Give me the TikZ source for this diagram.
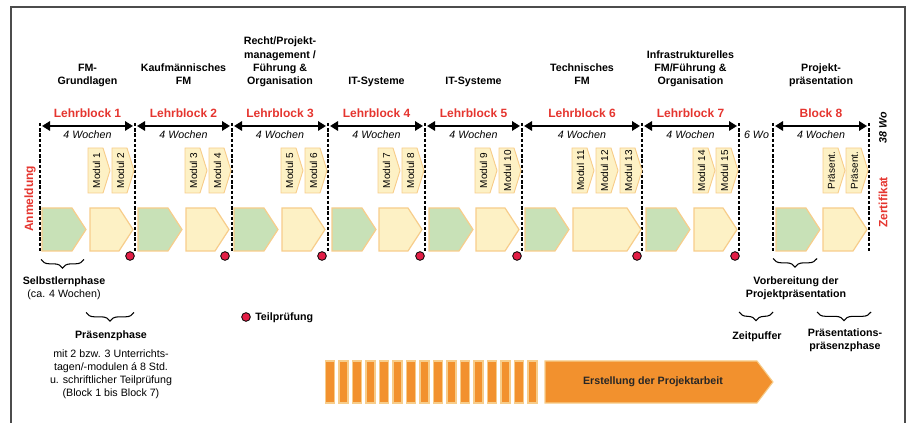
\documentclass[tikz,border=0pt]{standalone}
\usepackage{fontspec}
\setmainfont{Liberation Sans}
\usetikzlibrary{arrows.meta,decorations.pathreplacing}

\definecolor{rotschrift}{HTML}{E5352F}
\definecolor{gruenflaeche}{HTML}{C8E1B7}
\definecolor{gelbflaeche}{HTML}{FDF1C5}
\definecolor{orangerand}{HTML}{F7CD8B}
\definecolor{orangebalken}{HTML}{F2912E}
\definecolor{punktrot}{HTML}{E21E46}

% Fuenfeck: Stil, links, oben, Breite, Hoehe, Spitze
\newcommand{\pfeilform}[6]{%
	\draw[#1] (#2,#3) -- ++(#4-#6,0) -- ++(#6,#5/2) -- ++(-#6,#5/2) -- ++(#6-#4,0) -- cycle;}

\tikzset{
	thema/.style={font=\fontsize{8}{10}\selectfont\bfseries, align=center, anchor=south, inner sep=0pt, execute at end node=\strut},
	blocktitel/.style={font=\fontsize{9}{11}\selectfont\bfseries, text=rotschrift, anchor=base, inner sep=0pt},
	dauer/.style={font=\fontsize{8}{10}\selectfont\itshape, anchor=base, inner sep=0pt},
	dauerpfeil/.style={{Triangle[length=6pt,width=7pt]}-{Triangle[length=6pt,width=7pt]}, line width=1.9pt, shorten <=1.5pt, shorten >=1.5pt},
	trenn/.style={line width=1.4pt, dash pattern=on 2.6pt off 1.3pt},
	gruen/.style={fill=gruenflaeche, draw=orangerand, line width=0.9pt},
	gelb/.style={fill=gelbflaeche, draw=orangerand, line width=0.9pt},
	modul/.style={fill=gelbflaeche, draw=orangerand, line width=0.7pt},
	modultext/.style={font=\fontsize{7.5}{9}\selectfont, rotate=90, inner sep=0pt},
	pruef/.style={circle, draw=black, fill=punktrot, line width=0.6pt, minimum size=6.5pt, inner sep=0pt},
	seitlich/.style={font=\fontsize{9}{11}\selectfont\bfseries, rotate=90, inner sep=0pt},
	klammer/.style={decorate, decoration={brace, mirror, amplitude=6.5pt}, line width=0.8pt},
	erklaerung/.style={font=\fontsize{8}{9.75}\selectfont, align=center, anchor=north, inner sep=0pt, execute at begin node=\strut},
	erklaerungfett/.style={erklaerung, font=\fontsize{8}{9.75}\selectfont\bfseries},
	streifen/.style={fill=orangebalken, draw=orangerand, line width=0.8pt},
}

\begin{document}
\begin{tikzpicture}[x=0.75pt,y=-0.75pt]
	\useasboundingbox (0,0) rectangle (909,423);
	\draw[draw=black!70, line width=0.8pt] (11,423) -- (11,7) -- (905,7) -- (905,423);

	% Themen
	\node[thema] (th1) at (87.5,89) {FM-\\Grundlagen};
	\node[thema] (th2) at (183.5,89) {Kaufmännisches\\FM};
	\node[thema] (th3) at (280,89) {Recht/Projekt-\\management /\\Führung \&\\Organisation};
	\node[thema] (th4) at (376.5,89) {IT-Systeme};
	\node[thema] (th5) at (473.5,89) {IT-Systeme};
	\node[thema] (th6) at (582,89) {Technisches\\FM};
	\node[thema] (th7) at (690.5,89) {Infrastrukturelles\\FM/Führung \&\\Organisation};
	\node[thema] (th8) at (821,89) {Projekt-\\präsentation};

	% Bloecke
	\foreach \c [count=\n] in {87.5,183.5,280,376.5,473.5,582,690.5}
	{
		\node[blocktitel] (lb\n) at (\c,118) {Lehrblock \n};
		\node[dauer] (wo\n) at (\c,138.5) {4 Wochen};
	}
	\node[blocktitel] (lb8) at (821,118) {Block 8};
	\node[dauer] (wo8) at (821,138.5) {4 Wochen};
	\node[dauer] (wo9) at (756.5,138.5) {6 Wo};

	\foreach \x [count=\i from 0] in {40,135,232,328,425,522,642,739,773,869}
	{
		\coordinate (t\i) at (\x,126);
		\draw[trenn] (t\i) ++(0,-3) -- ++(0,128);
	}
	\foreach \a/\b in {0/1,1/2,2/3,3/4,4/5,5/6,6/7,8/9}
		\draw[dauerpfeil] (t\a) -- (t\b);

	% Module
	\foreach \x/\txt [count=\i] in {88/Modul 1, 112/Modul 2, 185/Modul 3, 209/Modul 4, 281/Modul 5, 305/Modul 6, 378/Modul 7, 402/Modul 8, 475/Modul 9, 499/Modul 10, 572/Modul 11, 596/Modul 12, 620/Modul 13, 693/Modul 14, 716/Modul 15, 823/Präsent., 846/Präsent.}
	{
		\pfeilform{modul}{\x}{148}{22}{45}{7}
		\node[modultext] (m\i) at (\x+8.5,170.5) {\txt};
	}

	% Phasen
	\foreach \gx/\yx/\yb in {42/90/43, 138/186/43, 234/282/43, 332/379/43, 429/476/43, 525/573/68, 646/694/43, 776/823/44}
	{
		\pfeilform{gruen}{\gx}{208}{44}{43}{14}
		\pfeilform{gelb}{\yx}{208}{\yb}{43}{14}
	}

	% Teilpruefungen
	\foreach \x [count=\i] in {130,225,322,420,517,637,735}
		\node[pruef] (tp\i) at (\x,256) {};

	\node[seitlich, text=rotschrift] (anm) at (30,199) {Anmeldung};
	\node[seitlich, text=rotschrift] (zert) at (883,202.5) {Zertifikat};
	\node[seitlich, font=\fontsize{8}{10}\selectfont\bfseries\itshape] (ges) at (883,128) {38 Wo};

	% Klammern
	\foreach \a/\b/\h [count=\i] in {41/84/259.5, 86/134/312.5, 773/817/258.5, 739/773/312, 817/871/312}
	{
		\coordinate (ka\i) at (\a,\h);
		\coordinate (kb\i) at (\b,\h);
		\draw[klammer] (ka\i) -- (kb\i);
	}
	\node[erklaerung] (selbst) at (64,277) {\textbf{Selbstlernphase}\\(ca. 4 Wochen)};
	\node[erklaerungfett] (praesenz) at (111,329) {Präsenzphase};
	\node[erklaerung] (praesenztext) at (111,350) {mit 2 bzw. 3 Unterrichts-\\tagen/-modulen á 8 Std.\\u. schriftlicher Teilprüfung\\(Block 1 bis Block 7)};
	\node[erklaerungfett] (vorb) at (796,276.5) {Vorbereitung der\\Projektpräsentation};
	\node[erklaerungfett] (zeit) at (757,330) {Zeitpuffer};
	\node[erklaerungfett] (praes) at (845,328.5) {Präsentations-\\präsenzphase};

	\node[pruef] (legpunkt) at (246,317) {};
	\node[anchor=base west, font=\fontsize{8}{10}\selectfont\bfseries, inner sep=0pt] (legtext) at (255,320.5) {Teilprüfung};

	% Projektarbeit
	\foreach \i in {0,...,15}
		\draw[streifen] (325.5+\i*13.5,361) rectangle ++(9,42);
	\pfeilform{streifen}{545}{361}{228}{42}{16}
	\node[font=\fontsize{8}{10}\selectfont\bfseries, text=black!85] (arbeit) at (653,382) {Erstellung der Projektarbeit};
\end{tikzpicture}
\end{document}
